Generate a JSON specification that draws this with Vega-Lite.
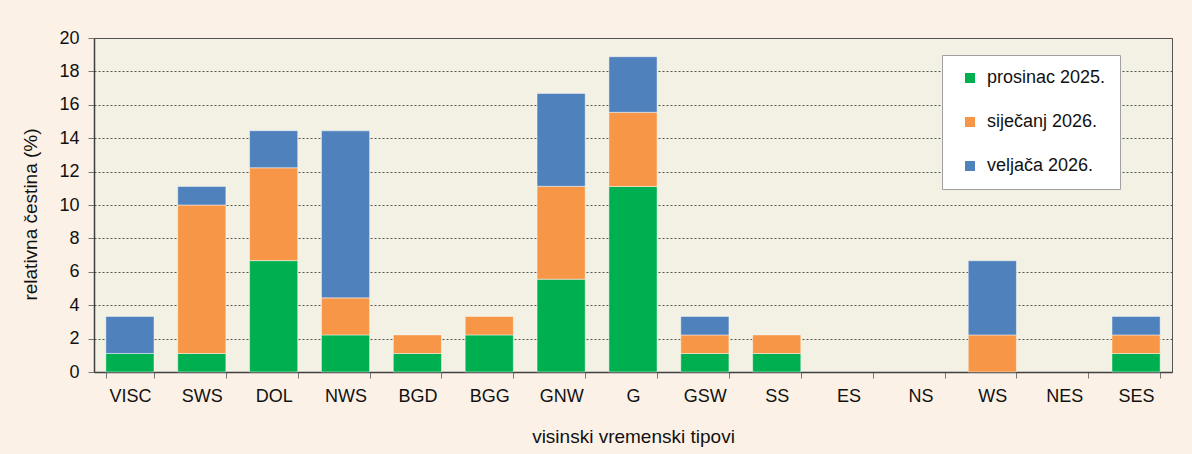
{
  "$schema": "https://vega.github.io/schema/vega-lite/v6.json",
  "width": 1078,
  "height": 334,
  "autosize": {"type": "none"},
  "padding": {"left": 94, "top": 38, "right": 20, "bottom": 82},
  "background": "#fcf1e7",
  "config": {
    "font": "Liberation Sans",
    "view": {"fill": "#f3f1e3", "stroke": "#555555", "strokeWidth": 1}
  },
  "data": {
    "values": [
      {"tip": "VISC", "mjesec": "prosinac 2025.", "red": 1, "v": 1.11},
      {"tip": "VISC", "mjesec": "veljača 2026.", "red": 3, "v": 2.22},
      {"tip": "SWS", "mjesec": "prosinac 2025.", "red": 1, "v": 1.11},
      {"tip": "SWS", "mjesec": "siječanj 2026.", "red": 2, "v": 8.89},
      {"tip": "SWS", "mjesec": "veljača 2026.", "red": 3, "v": 1.11},
      {"tip": "DOL", "mjesec": "prosinac 2025.", "red": 1, "v": 6.67},
      {"tip": "DOL", "mjesec": "siječanj 2026.", "red": 2, "v": 5.56},
      {"tip": "DOL", "mjesec": "veljača 2026.", "red": 3, "v": 2.22},
      {"tip": "NWS", "mjesec": "prosinac 2025.", "red": 1, "v": 2.22},
      {"tip": "NWS", "mjesec": "siječanj 2026.", "red": 2, "v": 2.22},
      {"tip": "NWS", "mjesec": "veljača 2026.", "red": 3, "v": 10},
      {"tip": "BGD", "mjesec": "prosinac 2025.", "red": 1, "v": 1.11},
      {"tip": "BGD", "mjesec": "siječanj 2026.", "red": 2, "v": 1.11},
      {"tip": "BGG", "mjesec": "prosinac 2025.", "red": 1, "v": 2.22},
      {"tip": "BGG", "mjesec": "siječanj 2026.", "red": 2, "v": 1.11},
      {"tip": "GNW", "mjesec": "prosinac 2025.", "red": 1, "v": 5.56},
      {"tip": "GNW", "mjesec": "siječanj 2026.", "red": 2, "v": 5.56},
      {"tip": "GNW", "mjesec": "veljača 2026.", "red": 3, "v": 5.56},
      {"tip": "G", "mjesec": "prosinac 2025.", "red": 1, "v": 11.11},
      {"tip": "G", "mjesec": "siječanj 2026.", "red": 2, "v": 4.44},
      {"tip": "G", "mjesec": "veljača 2026.", "red": 3, "v": 3.33},
      {"tip": "GSW", "mjesec": "prosinac 2025.", "red": 1, "v": 1.11},
      {"tip": "GSW", "mjesec": "siječanj 2026.", "red": 2, "v": 1.11},
      {"tip": "GSW", "mjesec": "veljača 2026.", "red": 3, "v": 1.11},
      {"tip": "SS", "mjesec": "prosinac 2025.", "red": 1, "v": 1.11},
      {"tip": "SS", "mjesec": "siječanj 2026.", "red": 2, "v": 1.11},
      {"tip": "WS", "mjesec": "siječanj 2026.", "red": 2, "v": 2.22},
      {"tip": "WS", "mjesec": "veljača 2026.", "red": 3, "v": 4.44},
      {"tip": "SES", "mjesec": "prosinac 2025.", "red": 1, "v": 1.11},
      {"tip": "SES", "mjesec": "siječanj 2026.", "red": 2, "v": 1.11},
      {"tip": "SES", "mjesec": "veljača 2026.", "red": 3, "v": 1.11}
    ]
  },
  "mark": {"type": "bar", "stroke": "#ffffff", "strokeOpacity": 0.45, "strokeWidth": 1},
  "encoding": {
    "x": {
      "field": "tip",
      "type": "nominal",
      "sort": ["VISC", "SWS", "DOL", "NWS", "BGD", "BGG", "GNW", "G", "GSW", "SS", "ES", "NS", "WS", "NES", "SES"],
      "scale": {
        "domain": ["VISC", "SWS", "DOL", "NWS", "BGD", "BGG", "GNW", "G", "GSW", "SS", "ES", "NS", "WS", "NES", "SES"],
        "paddingInner": 0.33, "paddingOuter": 0.165
      },
      "axis": {
        "title": "visinski vremenski tipovi",
        "titleFontSize": 19,
        "titleFontWeight": "normal",
        "titleColor": "#111111",
        "titleBaseline": "alphabetic",
        "titleY": 70,
        "labelAngle": 0,
        "labelFontSize": 18,
        "labelColor": "#111111",
        "labelPadding": 9,
        "tickBand": "extent",
        "tickSize": 6,
        "tickColor": "#777777",
        "domainColor": "#404040",
        "domainWidth": 1.5
      }
    },
    "y": {
      "field": "v",
      "type": "quantitative",
      "stack": "zero",
      "scale": {"domain": [0, 20], "nice": false},
      "axis": {
        "title": "relativna čestina (%)",
        "titleFontSize": 19,
        "titleFontWeight": "normal",
        "titleColor": "#111111",
        "titleAngle": -90,
        "titleAlign": "center",
        "titleBaseline": "alphabetic",
        "titleX": -58,
        "titleY": 176,
        "values": [0, 2, 4, 6, 8, 10, 12, 14, 16, 18, 20],
        "labelFontSize": 18,
        "labelColor": "#111111",
        "labelPadding": 9,
        "tickSize": 6,
        "tickColor": "#777777",
        "domainColor": "#404040",
        "domainWidth": 1.5,
        "grid": true,
        "gridColor": "#555555",
        "gridDash": [2, 2],
        "gridWidth": 1
      }
    },
    "color": {
      "field": "mjesec",
      "type": "nominal",
      "scale": {
        "domain": ["prosinac 2025.", "siječanj 2026.", "veljača 2026."],
        "range": ["#00b050", "#f79646", "#4f81bd"]
      },
      "legend": {
        "title": null,
        "orient": "none",
        "legendX": 848,
        "legendY": 17,
        "fillColor": "#ffffff",
        "strokeColor": "#a0a0a0",
        "padding": 14,
        "symbolType": "square",
        "symbolSize": 100,
        "symbolStrokeWidth": 0,
        "symbolOffset": 5,
        "labelOffset": 8,
        "labelFontSize": 18,
        "labelColor": "#111111",
        "labelLimit": 300,
        "rowPadding": 26
      }
    },
    "order": {"field": "red", "type": "quantitative"}
  }
}
